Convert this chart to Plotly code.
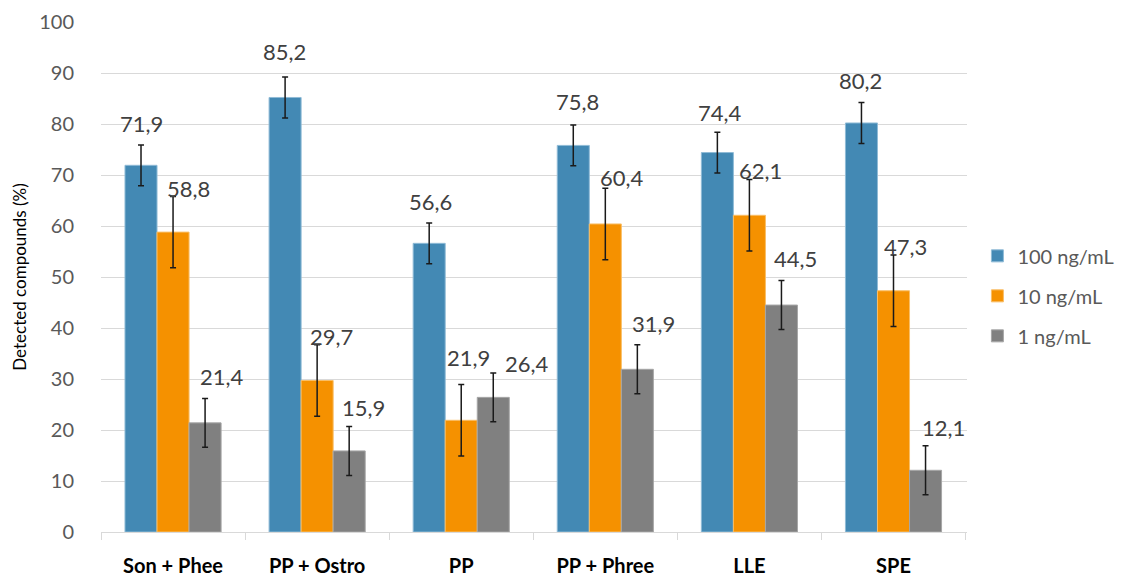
import plotly.graph_objects as go

# Extraction methods and detection rates (%) at three spiking levels
methods = ["Son + Phee", "PP + Ostro", "PP", "PP + Phree", "LLE", "SPE"]
series_names = ["100 ng/mL", "10 ng/mL", "1 ng/mL"]
detected_100 = [71.9, 85.2, 56.6, 75.8, 74.4, 80.2]
detected_10 = [58.8, 29.7, 21.9, 60.4, 62.1, 47.3]
detected_1 = [21.4, 15.9, 26.4, 31.9, 44.5, 12.1]
# standard error per series (same for every method)
stderr_100 = [4.0] * 6
stderr_10 = [7.0] * 6
stderr_1 = [4.8] * 6

colors = ["#4389B4", "#F59100", "#808080"]
edge_colors = ["#8FBBD6", "#F9BE66", "#A6A6A6"]

# label nudges in pixels (x, y) relative to each bar top
label_dx = [
    [0, -1, 1, 4, 3, -1],
    [15, 14, 7, 17, 11, 12],
    [17, 14, 34, 16, 14, 18],
]
label_dy = [
    [42, 46, 42, 44, 40, 42],
    [44, 44, 63, 46, 45, 44],
    [46, 43, 34, 46, 47, 43],
]
bar_shift = [-32, 0, 32]

FONT = "Lato, 'Open Sans', sans-serif"

values = [detected_100, detected_10, detected_1]
errors = [stderr_100, stderr_10, stderr_1]

fig = go.Figure()
for i, name in enumerate(series_names):
    fig.add_trace(go.Bar(
        x=methods,
        y=values[i],
        name=name,
        legendgroup=name,
        marker=dict(color=colors[i], line=dict(color=edge_colors[i], width=1)),
        error_y=dict(type="data", array=errors[i], visible=True,
                     color="#1a1a1a", thickness=1.5, width=3),
    ))

annotations = []
for i in range(3):
    for j, m in enumerate(methods):
        v = values[i][j]
        annotations.append(dict(
            x=m, y=v, xref="x", yref="y",
            text=f"{v:.1f}".replace(".", ","),
            showarrow=False,
            xanchor="center", yanchor="middle",
            xshift=bar_shift[i] + label_dx[i][j],
            yshift=label_dy[i][j],
            font=dict(family=FONT, size=22, color="#404040"),
        ))

fig.update_layout(
    width=1123, height=576,
    margin=dict(l=101, r=156, t=22, b=44, autoexpand=False),
    paper_bgcolor="white", plot_bgcolor="white",
    barmode="group", bargap=0.333, bargroupgap=0,
    font=dict(family=FONT, color="#595959"),
    annotations=annotations,
    legend=dict(
        x=1.012, xanchor="left", y=0.463, yanchor="middle",
        font=dict(family=FONT, size=20, color="#595959"),
        tracegroupgap=11, itemwidth=30, bgcolor="rgba(0,0,0,0)",
    ),
    showlegend=True,
)
fig.update_xaxes(
    type="category",
    showgrid=False, showline=True, linecolor="#d9d9d9", linewidth=1,
    ticks="outside", tickson="boundaries", ticklen=7, tickcolor="#d9d9d9",
    tickfont=dict(family=FONT, size=20, color="#000000", weight="bold"),
    ticklabelstandoff=16,
)
fig.update_yaxes(
    range=[0, 100], dtick=10,
    showgrid=True, gridcolor="#d9d9d9", gridwidth=1,
    zeroline=True, zerolinecolor="#d9d9d9", zerolinewidth=1,
    showline=False,
    tickfont=dict(family=FONT, size=20, color="#595959"),
    ticklabelstandoff=26,
    title=dict(text="Detected compounds (%)", standoff=8,
               font=dict(family=FONT, size=17, color="#000000")),
)

fig.write_html("out.html")
